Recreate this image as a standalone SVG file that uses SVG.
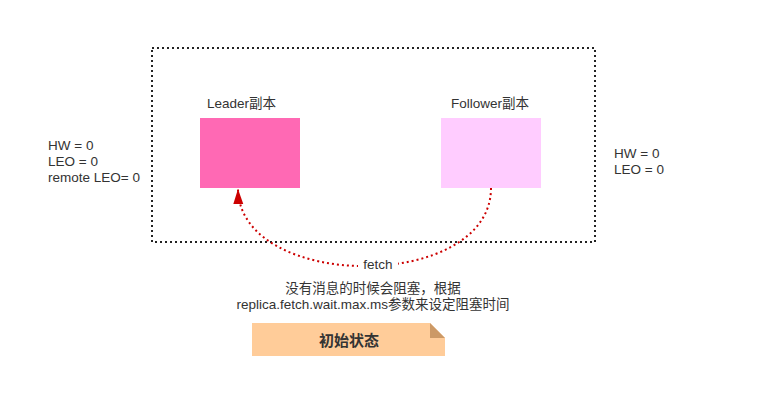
<svg xmlns="http://www.w3.org/2000/svg" width="781" height="419" viewBox="0 0 781 419">
<style>
text{font-family:"Liberation Sans","Noto Sans CJK SC",sans-serif;font-size:13.5px;fill:#333}
.c{text-anchor:middle}
</style>
<defs>
<marker id="ah" markerWidth="16" markerHeight="12" refX="15" refY="5" orient="auto" markerUnits="userSpaceOnUse" viewBox="0 0 16 10">
<path d="M0,0 L15,5 L0,10 Z" fill="#CC0000"/>
</marker>
</defs>
<rect width="781" height="419" fill="#fff"/>
<rect x="152" y="48" width="443" height="194" fill="none" stroke="#222" stroke-width="2" stroke-dasharray="2,3"/>
<g id="leader">
<rect x="200" y="118" width="100" height="70" fill="#FF69B4"/>
<text x="207" y="108">Leader副本</text>
</g>
<g id="follower">
<rect x="441" y="118" width="100" height="70" fill="#FFCCFF"/>
<text x="451" y="108">Follower副本</text>
</g>
<g id="leader-state">
<text x="48" y="150">HW = 0</text>
<text x="48" y="166">LEO = 0</text>
<text x="48" y="182">remote LEO= 0</text>
</g>
<g id="follower-state">
<text x="614" y="158">HW = 0</text>
<text x="614" y="174">LEO = 0</text>
</g>
<g id="connectors">
<path d="M491,188 C491,292 240,292 238,189" fill="none" stroke="#CC0000" stroke-width="2" stroke-dasharray="2,3" marker-end="url(#ah)"/>
<rect x="358" y="257" width="40" height="15" fill="#fff"/>
<text class="c" x="378" y="269">fetch</text>
</g>
<g id="note">
<text class="c" x="373" y="293">没有消息的时候会阻塞，根据</text>
<text class="c" x="373" y="309">replica.fetch.wait.max.ms参数来设定阻塞时间</text>
</g>
<g id="banner">
<path d="M252,323 H430 L445,338 V356 H252 Z" fill="#FFCC99"/>
<path d="M430,323 L445,338 H430 Z" fill="#CC9966"/>
<text class="c" x="349" y="346" style="font-size:15px;font-weight:bold">初始状态</text>
</g>
</svg>
